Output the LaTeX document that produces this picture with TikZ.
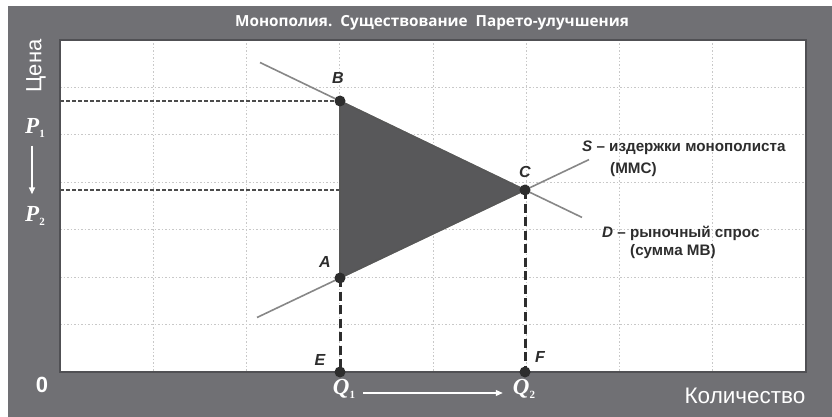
\documentclass[tikz,border=0pt]{standalone}
\usepackage{fontspec}
\setmainfont{Liberation Sans}
\newfontfamily\titlefont{Open Sans}
\newfontfamily\serifbi{Liberation Serif}
\usetikzlibrary{arrows.meta}
\definecolor{bg}{RGB}{112,112,116}
\definecolor{gridc}{RGB}{200,200,200}
\definecolor{tri}{RGB}{88,88,90}
\definecolor{curvec}{RGB}{135,135,135}
\definecolor{darkc}{RGB}{45,45,45}
\definecolor{framec}{RGB}{80,80,84}
\tikzset{
  gridline/.style={gridc, line width=1pt, dash pattern=on 1.5pt off 2pt},
  guideh/.style={darkc!85, line width=1.5pt, dash pattern=on 4pt off 2pt},
  guidev/.style={darkc, line width=3pt, dash pattern=on 9pt off 4.5pt},
  curve/.style={curvec, line width=1.6pt},
  dotpt/.style={circle, fill=darkc, inner sep=0pt, minimum size=11pt},
  ptlabel/.style={darkc, font=\fontsize{16}{16}\selectfont\bfseries\itshape, inner sep=0pt},
  legend/.style={darkc, font=\fontsize{15.2}{17}\selectfont\bfseries, inner sep=0pt, anchor=west},
  axisvar/.style={white, font=\fontsize{23}{23}\selectfont\serifbi\bfseries\itshape, inner sep=0pt},
  whitearrow/.style={white, line width=1.2pt, -{Triangle[width=6pt,length=7pt]}}
}
\newcommand{\subidx}[1]{\raisebox{-4pt}{\fontsize{11}{11}\selectfont\upshape #1}}
\begin{document}
\begin{tikzpicture}[x=1pt,y=-1pt]
\useasboundingbox (0,0) rectangle (832,417);
\fill[bg] (8,6) rectangle (832,417);
\fill[white] (60,40) rectangle (806,372);
% grid
\foreach \i in {1,...,7} {
  \draw[gridline] ({60+93.25*\i},40) -- ({60+93.25*\i},372);
}
\foreach \j in {1,...,6} {
  \draw[gridline] (60,{40+47.43*\j}) -- (806,{40+47.43*\j});
}
\draw[framec, line width=2pt] (60,40) rectangle (806,372);
% key points
\coordinate (B) at (340,101);
\coordinate (C) at (525,190);
\coordinate (A) at (340,278);
\coordinate (E) at (340,372);
\coordinate (F) at (525,372);
\coordinate (D0) at (260,62.5);
\coordinate (D1) at (582,217.4);
\coordinate (S0) at (257,317.5);
\coordinate (S1) at (589,159.6);
\coordinate (BL) at (60,101);
\coordinate (CL) at (60,190);
% horizontal guides
\draw[guideh] (BL) -- (B);
\draw[guideh] (CL) -- (C);
% curves
\draw[curve] (D0) -- (D1);
\draw[curve] (S0) -- (S1);
% triangle
\fill[tri] (B) -- (C) -- (A) -- cycle;
\draw[darkc!80, line width=1.6pt, line join=round] (B) -- (C) -- (A) -- cycle;
% vertical guides
\draw[guidev] (A) -- (E);
\draw[guidev] (C) -- (F);
% dots
\foreach \p in {A,B,C,E,F} { \node[dotpt] (dot\p) at (\p) {}; }
% point labels
\node[ptlabel] (lB) at (338,78) {B};
\node[ptlabel] (lC) at (525,172) {C};
\node[ptlabel] (lA) at (325,262) {A};
\node[ptlabel] (lE) at (320,360) {E};
\node[ptlabel] (lF) at (540,357) {F};
% legends
\node[legend] (sleg) at (582,148) {\itshape S\upshape\ – издержки монополиста};
\node[legend] (sleg2) at (610,170) {(ММС)};
\node[legend] (dleg) at (602,233) {\itshape D\upshape\ – рыночный спрос};
\node[legend] (dleg2) at (630,252) {(сумма МВ)};
% title
\node[white, font=\titlefont\fontsize{15.3}{15.3}\selectfont\bfseries, inner sep=0pt] (title) at (432,23) {Монополия.\ \ Существование\ \ Парето-улучшения};
% axes labels
\node[white, rotate=90, font=\fontsize{22}{22}\selectfont, inner sep=0pt] (ylab) at (36,66) {Цена};
\node[axisvar] (p1) at (35,128) {P\subidx{1}};
\node[axisvar] (p2) at (35,216) {P\subidx{2}};
\draw[whitearrow, line width=1.5pt] ([xshift=-3pt]p1.south) ++(0,8) -- ([xshift=-3pt,yshift=12pt]p2.north);
\node[white, font=\fontsize{22}{22}\selectfont\bfseries, inner sep=0pt] (zero) at (42,385) {0};
\node[axisvar] (q1) at (344,389) {Q\subidx{1}};
\node[axisvar] (q2) at (524,389) {Q\subidx{2}};
\draw[whitearrow] ([xshift=8pt,yshift=-4pt]q1.east) -- ([xshift=-10pt,yshift=-4pt]q2.west);
\node[white, font=\fontsize{22.5}{22.5}\selectfont, inner sep=0pt] (xlab) at (745,396) {Количество};
\end{tikzpicture}
\end{document}
